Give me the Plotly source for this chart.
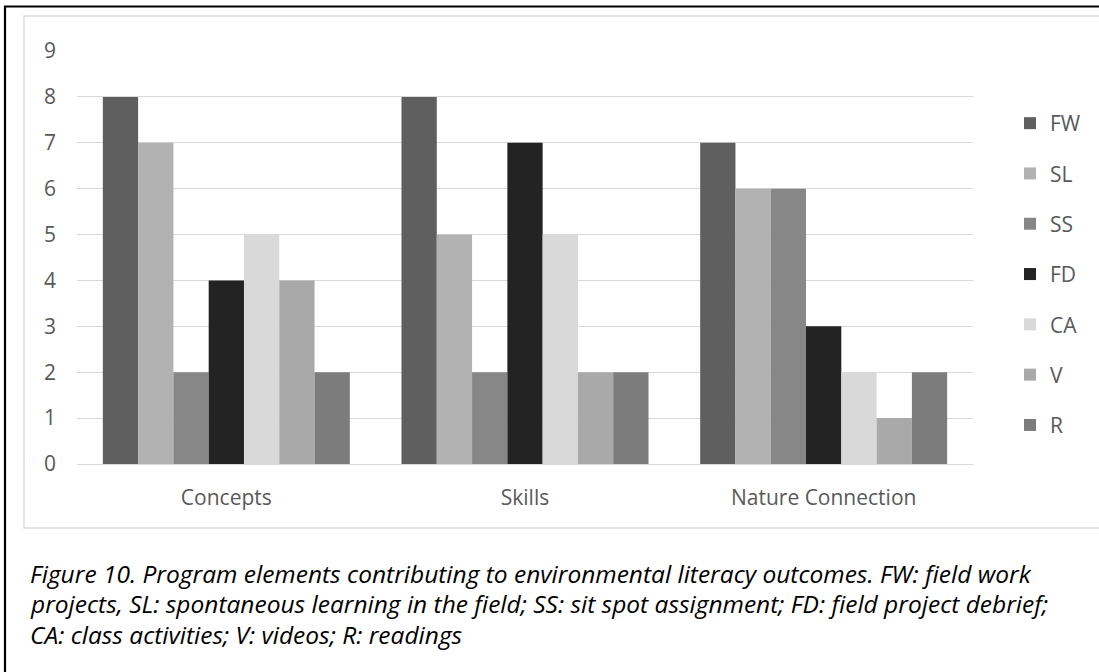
import plotly.graph_objects as go

categories = ["Concepts", "Skills", "Nature Connection"]
series_names = ["FW", "SL", "SS", "FD", "CA", "V", "R"]
FW = [8, 8, 7]
SL = [7, 5, 6]
SS = [2, 2, 6]
FD = [4, 7, 3]
CA = [5, 5, 2]
V = [4, 2, 1]
R = [2, 2, 2]
series_values = [FW, SL, SS, FD, CA, V, R]
colors = ["#5f5f5f", "#b2b2b2", "#878787", "#232323", "#d9d9d9", "#a9a9a9", "#7c7c7c"]
y_ticks = list(range(0, 10))

caption_lines = [
    "Figure 10. Program elements contributing to environmental literacy outcomes. FW: field work",
    "projects, SL: spontaneous learning in the field; SS: sit spot assignment; FD: field project debrief;",
    "CA: class activities; V: videos; R: readings",
]

FONT = "Open Sans"
W, H = 1099, 672
L, Rm, T, B = 77, 126, 51, 208
pw, ph = W - L - Rm, H - T - B


def px_x(x):
    return (x - L) / pw


def px_y(y):
    return (H - B - y) / ph


fig = go.Figure()
for i, (name, vals) in enumerate(zip(series_names, series_values)):
    fig.add_trace(go.Bar(
        x=categories, y=vals, name=name,
        marker=dict(color=colors[i], line=dict(width=0)),
        legendgroup=name,
    ))

shapes = [
    dict(type="rect", xref="paper", yref="paper",
         x0=px_x(5), x1=px_x(1110), y0=px_y(6.5), y1=px_y(690),
         line=dict(color="black", width=2.2), fillcolor="rgba(0,0,0,0)", layer="below"),
    dict(type="rect", xref="paper", yref="paper",
         x0=px_x(24), x1=px_x(1110), y0=px_y(16), y1=px_y(528),
         line=dict(color="#d9d9d9", width=1.3), fillcolor="rgba(0,0,0,0)", layer="below"),
]

annotations = []
for k, line in enumerate(caption_lines):
    annotations.append(dict(
        xref="paper", yref="paper", x=px_x(28), y=px_y(573 + 30.5 * k),
        xanchor="left", yanchor="middle", showarrow=False,
        text="<i>" + line + "</i>",
        font=dict(family=FONT, size=24.5, color="#000000"),
    ))

fig.update_layout(
    width=W, height=H,
    margin=dict(l=L, r=Rm, t=T, b=B, pad=0),
    paper_bgcolor="white", plot_bgcolor="white",
    barmode="group", bargap=0.173, bargroupgap=0,
    font=dict(family=FONT, size=21, color="#595959"),
    legend=dict(
        x=px_x(1010), xanchor="left", y=px_y(103), yanchor="top",
        traceorder="grouped", tracegroupgap=20,
        font=dict(family=FONT, size=21, color="#595959"),
        bgcolor="rgba(0,0,0,0)",
    ),
    shapes=shapes,
    annotations=annotations,
)
fig.update_xaxes(showgrid=False, showline=False, ticks="", zeroline=False,
                 ticklabelstandoff=19, tickfont=dict(family=FONT, size=21, color="#595959"))
fig.update_yaxes(range=[0, 9], tickvals=y_ticks, showgrid=True, gridcolor="#d9d9d9", gridwidth=1.3,
                 zeroline=True, zerolinecolor="#d9d9d9", zerolinewidth=1.3, showline=False, ticks="",
                 ticklabelstandoff=20, tickfont=dict(family=FONT, size=21, color="#595959"))

fig.write_html("out.html", config={"displayModeBar": False},
               post_script="document.body.style.margin='0';")
